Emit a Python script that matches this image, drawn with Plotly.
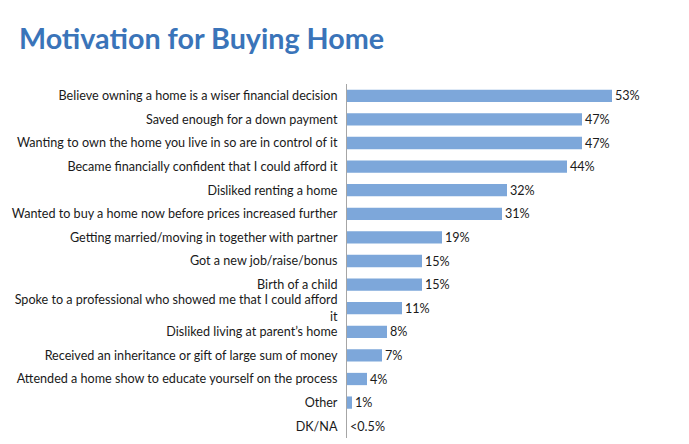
import plotly.graph_objects as go

categories = [
    "Believe owning a home is a wiser financial decision",
    "Saved enough for a down payment",
    "Wanting to own the home you live in so are in control of it",
    "Became financially confident that I could afford it",
    "Disliked renting a home",
    "Wanted to buy a home now before prices increased further",
    "Getting married/moving in together with partner",
    "Got a new job/raise/bonus",
    "Birth of a child",
    "Spoke to a professional who showed me that I could afford<br>it",
    "Disliked living at parent\u2019s home",
    "Received an inheritance or gift of large sum of money",
    "Attended a home show to educate yourself on the process",
    "Other",
    "DK/NA",
]
values = [53, 47, 47, 44, 32, 31, 19, 15, 15, 11, 8, 7, 4, 1, 0]
value_labels = ["53%", "47%", "47%", "44%", "32%", "31%", "19%", "15%", "15%",
                "11%", "8%", "7%", "4%", "1%", "<0.5%"]

FONT = "Lato"

fig = go.Figure(go.Bar(
    x=values,
    y=categories,
    orientation="h",
    marker=dict(color="#7DA7DA", line=dict(width=0)),
    text=value_labels,
    textposition="outside",
    constraintext="none",
    textfont=dict(family=FONT, size=12.6, color="#1a1a1a"),
    cliponaxis=False,
    width=0.52,
))

fig.update_layout(
    width=689, height=444,
    margin=dict(l=347, r=2, t=84, b=6),
    paper_bgcolor="white",
    plot_bgcolor="white",
    showlegend=False,
    font=dict(family=FONT, size=12.6, color="#1a1a1a"),
    xaxis=dict(range=[0, 68], visible=False, showgrid=False, zeroline=False),
    yaxis=dict(
        autorange="reversed",
        showgrid=False,
        zeroline=False,
        showline=True,
        linecolor="#A6A6A6",
        linewidth=1,
        ticks="",
        ticklabelstandoff=6,
        tickfont=dict(family=FONT, size=12.6, color="#1a1a1a"),
    ),
    annotations=[dict(
        text="<b>Motivation for Buying Home</b>",
        x=0, y=1, xref="paper", yref="paper",
        showarrow=False,
        font=dict(family=FONT, size=28.7, color="#3A74B9"),
        xanchor="left", yanchor="middle",
    )],
)

plot_w = 689 - 347 - 2
plot_h = 444 - 84 - 6
fig.layout.annotations[0].x = (17 - 347) / plot_w
fig.layout.annotations[0].y = 1 + (84 - 38) / plot_h

fig.write_html("out.html")
